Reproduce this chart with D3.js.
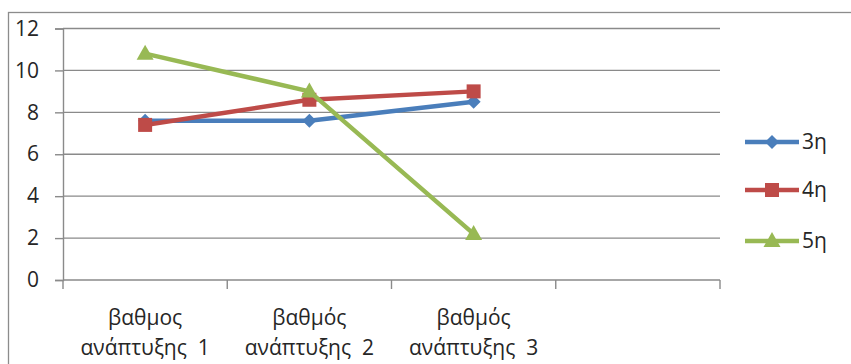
<!DOCTYPE html>
<html>
<head>
<meta charset="utf-8">
<script src="https://cdn.jsdelivr.net/npm/d3@7"></script>
<style>
  html, body { margin: 0; padding: 0; background: #fff; }
  svg { display: block; }
  text { font-family: "Open Sans", "Noto Sans", sans-serif; fill: #262626; }
</style>
</head>
<body>
<svg id="chart" width="851" height="364"></svg>
<script>
// Categories (the fourth slot is an empty category on the axis)
const categories = ["c1", "c2", "c3", "c4"];
const categoryLines = [
  ["βαθμος", "ανάπτυξης  1"],
  ["βαθμός", "ανάπτυξης  2"],
  ["βαθμός", "ανάπτυξης  3"],
  ["", ""]
];
const seriesNames = ["3η", "4η", "5η"];
const values3 = [7.6, 7.6, 8.5];
const values4 = [7.4, 8.6, 9.0];
const values5 = [10.8, 9.0, 2.2];
const yTicks = [0, 2, 4, 6, 8, 10, 12];
const colors = ["#4A7EBB", "#BE4B48", "#98B954"];
const markers = ["diamond", "square", "triangle"];

const fontSize = 21;
const svg = d3.select("#chart");

// outer chart border
svg.append("rect")
  .attr("x", 8.5).attr("y", 12.5)
  .attr("width", 900).attr("height", 400)
  .attr("fill", "none").attr("stroke", "#8c8c8c").attr("stroke-width", 1.3);

const plotLeft = 63, plotRight = 720, plotTop = 28.5, plotBottom = 280;

const x = d3.scaleBand().domain(categories).range([plotLeft, plotRight]);
const y = d3.scaleLinear().domain([0, 12]).range([plotBottom, plotTop]);

// horizontal gridlines
svg.append("g").selectAll("line")
  .data(yTicks.filter(d => d > 0))
  .join("line")
  .attr("x1", plotLeft).attr("x2", plotRight)
  .attr("y1", d => y(d)).attr("y2", d => y(d))
  .attr("stroke", "#8a8a8a").attr("stroke-width", 1.4);

// y axis
const yAxis = svg.append("g")
  .attr("transform", `translate(${plotLeft},0)`)
  .call(d3.axisLeft(y).tickValues(yTicks).tickSize(8).tickPadding(16));
yAxis.select(".domain").attr("stroke", "#8a8a8a").attr("stroke-width", 1.4);
yAxis.selectAll(".tick line").attr("stroke", "#8a8a8a").attr("stroke-width", 1.4);
yAxis.selectAll(".tick text")
  .attr("font-size", fontSize).attr("fill", "#262626")
  .style("font-family", "'Open Sans', 'Noto Sans', sans-serif");

// x axis: ticks on band boundaries
const xAxisG = svg.append("g").attr("transform", `translate(0,${plotBottom})`);
xAxisG.append("line")
  .attr("x1", plotLeft).attr("x2", plotRight)
  .attr("stroke", "#8a8a8a").attr("stroke-width", 1.4);
const boundaries = categories.map(c => x(c)).concat([x(categories[categories.length - 1]) + x.bandwidth()]);
xAxisG.selectAll("line.tk")
  .data(boundaries)
  .join("line").attr("class", "tk")
  .attr("x1", d => d).attr("x2", d => d)
  .attr("y1", 0).attr("y2", 9)
  .attr("stroke", "#8a8a8a").attr("stroke-width", 1.4);

// category labels (two lines)
const lab = svg.append("g").selectAll("text")
  .data(categories)
  .join("text")
  .attr("text-anchor", "middle")
  .attr("font-size", fontSize)
  .attr("x", d => x(d) + x.bandwidth() / 2)
  .attr("y", 325);
lab.each(function(d, i) {
  const t = d3.select(this);
  categoryLines[i].forEach((line, j) => {
    t.append("tspan")
      .attr("x", x(d) + x.bandwidth() / 2)
      .attr("dy", j === 0 ? 0 : 30)
      .style("white-space", "pre")
      .text(line);
  });
});

const allSeries = [values3, values4, values5];

function markerPath(type) {
  if (type === "diamond") return "M0,-7L7,0L0,7L-7,0Z";
  if (type === "square") return "M-7,-7H7V7H-7Z";
  return "M0,-9L8.5,6L-8.5,6Z";
}

const lineGen = d3.line()
  .x((d, i) => x(categories[i]) + x.bandwidth() / 2)
  .y(d => y(d));

allSeries.forEach((vals, s) => {
  const g = svg.append("g");
  g.append("path")
    .datum(vals)
    .attr("d", lineGen)
    .attr("fill", "none")
    .attr("stroke", colors[s])
    .attr("stroke-width", 4.5)
    .attr("stroke-linejoin", "round");
  g.selectAll("path.mk")
    .data(vals)
    .join("path").attr("class", "mk")
    .attr("transform", (d, i) => `translate(${x(categories[i]) + x.bandwidth() / 2},${y(d)})`)
    .attr("d", markerPath(markers[s]))
    .attr("fill", colors[s]);
});

// legend
const legendY = [142, 190, 241];
const lg = svg.append("g");
seriesNames.forEach((name, s) => {
  const ly = legendY[s];
  lg.append("line")
    .attr("x1", 745).attr("x2", 799)
    .attr("y1", ly).attr("y2", ly)
    .attr("stroke", colors[s]).attr("stroke-width", 4.5);
  lg.append("path")
    .attr("transform", `translate(772,${ly})`)
    .attr("d", markerPath(markers[s]))
    .attr("fill", colors[s]);
  lg.append("text")
    .attr("x", 802).attr("y", ly)
    .attr("dy", "0.35em")
    .attr("font-size", fontSize)
    .text(name);
});
</script>
</body>
</html>
